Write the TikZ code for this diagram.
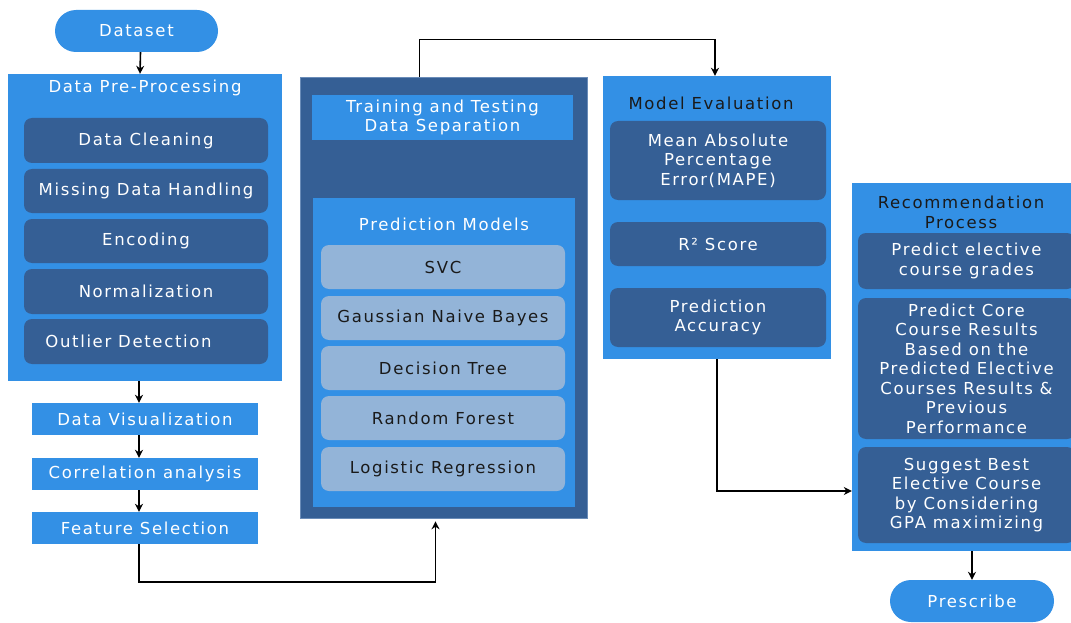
\documentclass[tikz,border=0pt]{standalone}
\usepackage{fontspec}
\setmainfont{DejaVu Sans}[LetterSpace=10]
\usetikzlibrary{arrows.meta,calc}
\definecolor{bblue}{HTML}{3390E5}
\definecolor{dblue}{HTML}{355F95}
\definecolor{lblue}{HTML}{93B4D8}
\definecolor{txtdark}{HTML}{1A1A1A}
\definecolor{edgeblue}{HTML}{6A8CB8}
\begin{document}
\begin{tikzpicture}[x=1pt,y=-1pt,
 box/.style={rectangle, inner sep=0pt, align=center, font=\fontsize{16.5}{19.5}\selectfont},
 brightbox/.style={box, fill=bblue, text=white},
 darkbox/.style={box, fill=dblue, text=white, rounded corners=8pt},
 lightbox/.style={box, fill=lblue, text=txtdark, rounded corners=8pt},
 pill/.style={box, fill=bblue, text=white, rounded corners=21pt},
 title/.style={inner sep=0pt, align=center, font=\fontsize{16.5}{19.5}\selectfont},
 arr/.style={-{Stealth[length=8pt,width=8pt]}, line width=1.6pt, black}]
\path[use as bounding box, fill=white] (0,0) rectangle (1071,623);

% left column
\node[pill, minimum width=163pt, minimum height=42pt] (dataset) at (136.5,31) {Dataset};
\node[brightbox, minimum width=274pt, minimum height=307pt] (dpp) at (145,227.5) {};
\node[title, text=white] (dpptitle) at (145,88) {Data Pre-Processing};
\node[darkbox, minimum width=244pt, minimum height=45pt] (clean) at (146,140.5) {Data Cleaning};
\node[darkbox, minimum width=244pt, minimum height=44pt] (missing) at (146,191) {Missing Data Handling};
\node[darkbox, minimum width=244pt, minimum height=44pt] (enc) at (146,241) {Encoding};
\node[darkbox, minimum width=244pt, minimum height=45pt] (norm) at (146,291.5) {Normalization};
\node[darkbox, minimum width=244pt, minimum height=45pt] (outl) at (146,341.5) {Outlier Detection\hspace*{35pt}};
\node[brightbox, minimum width=226pt, minimum height=32pt] (dv) at (145,419) {Data Visualization};
\node[brightbox, minimum width=226pt, minimum height=32pt] (corr) at (145,474) {Correlation analysis};
\node[brightbox, minimum width=226pt, minimum height=32pt] (fs) at (145,528) {Feature Selection};

% middle column
\node[box, fill=dblue, draw=edgeblue, line width=0.6pt, minimum width=287pt, minimum height=441pt] (mid) at (443.5,297.5) {};
\node[brightbox, minimum width=261pt, minimum height=45pt] (tt) at (442.5,117.5) {Training and Testing\\Data Separation};
\node[brightbox, minimum width=262pt, minimum height=309pt] (pm) at (444,352.5) {};
\node[title, text=white] (pmtitle) at (444,224) {Prediction Models};
\node[lightbox, minimum width=244pt, minimum height=44pt] (svc) at (443,267) {SVC};
\node[lightbox, minimum width=244pt, minimum height=44pt] (gnb) at (443,318) {Gaussian Naive Bayes};
\node[lightbox, minimum width=244pt, minimum height=44pt] (dt) at (443,368) {Decision Tree};
\node[lightbox, minimum width=244pt, minimum height=44pt] (rf) at (443,418) {Random Forest};
\node[lightbox, minimum width=244pt, minimum height=44pt] (lr) at (443,469) {Logistic Regression};

% model evaluation
\node[brightbox, minimum width=228pt, minimum height=283pt] (me) at (717,217.5) {};
\node[title, text=txtdark] (metitle) at (711,103) {Model Evaluation};
\node[darkbox, minimum width=216pt, minimum height=79pt] (mape) at (718,160.5) {Mean Absolute\\Percentage\\Error(MAPE)};
\node[darkbox, minimum width=216pt, minimum height=44pt] (r2) at (718,244) {R² Score};
\node[darkbox, minimum width=216pt, minimum height=59pt] (pa) at (718,317.5) {Prediction\\Accuracy};

% recommendation
\node[brightbox, minimum width=223pt, minimum height=368pt] (rec) at (963.5,367) {};
\node[title, text=txtdark] (rectitle) at (961,212.5) {Recommendation\\Process};
\node[darkbox, minimum width=217pt, minimum height=56pt] (peg) at (966.5,261) {Predict elective\\course grades};
\node[darkbox, minimum width=217pt, minimum height=141pt] (pcc) at (966.5,368.5) {Predict Core\\Course Results\\Based on the\\Predicted Elective\\Courses Results \&\\Previous\\Performance};
\node[darkbox, minimum width=217pt, minimum height=96pt] (sbe) at (966.5,495) {Suggest Best\\Elective Course\\by Considering\\GPA maximizing};
\node[pill, minimum width=164pt, minimum height=42pt] (presc) at (972,601) {Prescribe};

% connectors
\draw[arr] ([xshift=4pt]dataset.south) -- ([xshift=-5pt]dpp.north);
\draw[arr] ([xshift=-6pt]dpp.south) -- ([xshift=-6pt]dv.north);
\draw[arr] ([xshift=-6pt]dv.south) -- ([xshift=-6pt]corr.north);
\draw[arr] ([xshift=-6pt]corr.south) -- ([xshift=-6pt]fs.north);
\draw[arr] ([xshift=-6pt]fs.south) -- ++(0,38) -| ([xshift=-8pt,yshift=-3pt]mid.south);
\draw[arr] ([xshift=-24pt]mid.north) -- ++(0,-37) -| ([xshift=-2pt]me.north);
\draw[arr] (me.south) |- ([yshift=-124pt]rec.west);
\draw[arr] ([xshift=8.5pt]rec.south) -- (presc.north);
\end{tikzpicture}
\end{document}
